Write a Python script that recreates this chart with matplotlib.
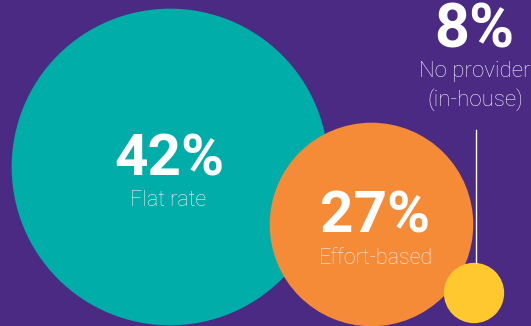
import matplotlib.pyplot as plt
from matplotlib.patches import Circle

# share of respondents by pricing model
labels = ['Flat rate', 'Effort-based', 'No provider\n(in-house)']
values = [42, 27, 8]
colors = ['#00ada9', '#f68b37', '#ffc82e']

bg = '#4b2a84'
px_per_pct = 3.77  # circle radius in px per percentage point

fig = plt.figure(figsize=(5.31, 3.26), dpi=100, facecolor=bg)
ax = fig.add_axes([0, 0, 1, 1])
ax.set_facecolor(bg)
ax.set_xlim(0, 531)
ax.set_ylim(326, 0)
ax.set_aspect('equal')
ax.axis('off')

# layout (centres in px)
centres = [(170, 167), (371.5, 224.5), (474, 293)]

for (cx, cy), v, c in zip(centres, values, colors):
    ax.add_patch(Circle((cx, cy), v * px_per_pct, facecolor=c, edgecolor='none'))

big = dict(family='Roboto', weight='bold', color='white', ha='center', va='center')
small = dict(family='Roboto', weight='light', color='#f1eef6', ha='center', va='center')

# labels inside the two big circles
ax.text(169, 160, f'{values[0]}%', fontsize=42, **big)
ax.text(168, 201, labels[0], fontsize=15.5, **small)
ax.text(375, 217, f'{values[1]}%', fontsize=42, **big)
ax.text(376, 259, labels[1], fontsize=15.5, **small)

# small circle gets a callout above it
top_y = centres[2][1] - values[2] * px_per_pct
ax.plot([476, 476], [130, top_y], color='white', lw=1)
ax.text(474, 30, f'{values[2]}%', fontsize=44, **big)
ax.text(475, 86, labels[2], fontsize=16, linespacing=1.3, **small)

fig.savefig('out.png', dpi=100, facecolor=bg)
